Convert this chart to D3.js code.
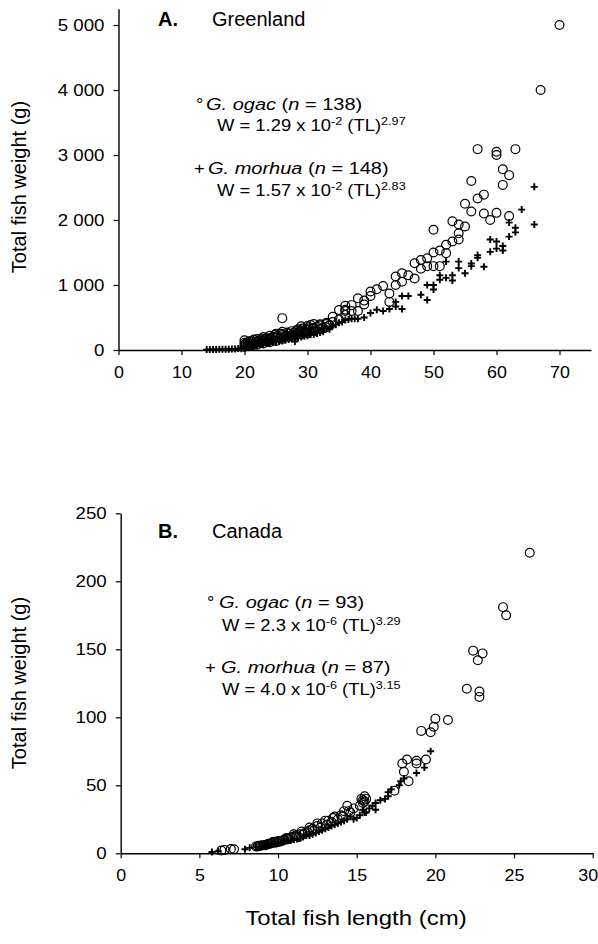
<!DOCTYPE html>
<html>
<head>
<meta charset="utf-8">
<title>Length-weight relationships</title>
<script src="https://cdn.jsdelivr.net/npm/d3@7"></script>
<style>
    body { margin: 0; background: #fff; }
    text { font-family: "Liberation Sans", Arial, sans-serif; fill: #000; }
</style>
</head>
<body>
<svg width="598" height="944"></svg>

<script>
    // [total length (cm), total weight (g)]
    const ogacA = [
        [70,5000],[67,4000],[57,3090],[63,3090],[60,3050],[60,3000],[61,2780],[62,2690],[56,2600],[61,2540],
        [58,2390],[57,2330],[55,2250],[56,2130],[58,2100],[60,2110],[59,2000],[62,2060],[53,1980],[54,1930],
        [55,1900],[50,1850],[54,1795],[54,1700],[53,1670],[52,1620],[51,1530],[50,1500],[52,1490],[49,1410],
        [48,1385],[47,1335],[49,1290],[50,1290],[51,1290],[48,1250],[45,1180],[46,1150],[44,1130],[47,1100],
        [45,1050],[44,1000],[42,985],[41,935],[40,900],[43,870],[43,740],[38,795],[39,760],[37,690],
        [36,680],[38,600],[36,600],[34,510],[35,615],[36,620],[33,400],[32,395],[30.5,385],[29,365],
        [20,50],[20,80],[20,110],[20,150],[20.5,70],[20.5,120],[21,60],[21,100],[21,140],[21.5,90],
        [21.5,160],[22,80],[22,120],[22,170],[22.5,110],[22.5,150],[23,100],[23,140],[23,200],[23.5,130],
        [23.5,180],[24,120],[24,170],[24,220],[24.5,150],[24.5,200],[25,140],[25,190],[25,250],[25.5,180],
        [26,490],[26,170],[26,230],[26,280],[26.5,210],[27,200],[27,250],[27.5,230],[27.5,290],[28,220],
        [28,270],[28.5,260],[28.5,320],[29,240],[29,300],[29.5,280],[30,260],[30,320],[30,370],[31,290],
        [31,340],[32,320],[32,380],[33,350],[34,430],[35,470],[36,540],[37,600],[39,700],[40,830],
        [20.2,95],[20.8,130],[21.2,75],[21.8,130],[22.2,145],[22.8,175],[23.2,165],[23.8,150],[24.2,190],[24.8,230],
        [25.2,210],[25.8,250],[26.2,200],[26.8,270],[27.2,220],[27.8,260],[28.2,300],[28.8,280],[29.2,330],[29.8,310],
        [30.2,350],[30.8,330],[31.5,360],[32.5,340],[33.5,380],[31,400],[33,420]
    ];
    const morhuaA = [
        [66,2510],[64,2160],[66,1930],[62,1960],[63,1880],[63,1810],[62,1745],[59,1700],[60,1670],[61,1600],
        [60,1560],[61,1530],[59,1510],[57,1460],[57,1420],[58,1280],[56,1330],[56,1290],[54,1360],[54,1260],
        [55,1180],[52,1360],[51,1150],[51,1080],[52,1110],[53,1150],[53,1070],[50,1000],[50,930],[49,1000],
        [48,850],[49,770],[46,830],[45,830],[44,740],[44,670],[43,630],[45,630],[42,600],[41,620],
        [40,570],[39,500],[38,480],[37,480],[36,460],[35,420],[34,380],[33.8,360],[33,330],[32,300],
        [31,280],[30,260],[29,230],[28,130],[28,210],[27,190],[26,170],[25,150],[24,130],[23,110],
        [22,95],[21,80],[20,60],[20,30],[21,50],[22,70],[23,85],[24,100],[25,120],[26,140],
        [27,160],[28,180],[29,200],[30,220],[31,240],[32,270],[19,25],[18,15],[17,12],[16,10],
        [15,8],[14,6],[14.5,7],[15.5,9],[16.5,11],[17.5,13],[18.5,15],[19.5,20],
        [20.5,70],[21.5,65],[22.5,90],[23.5,100],[24.5,115],[25.5,130],[26.5,150],[27.5,170],[28.5,190],[29.5,210],
        [30.5,235],[31.5,255],[32.5,280],[33.5,320],[34.5,390],[35.5,430],[36.5,470],[37.5,480]
    ];
    const ogacB = [
        [26,221],[24.3,181],[24.5,175],[22.4,149],[23,147],[22.7,142],[22,121],[22.8,119],[22.8,115],[20.8,98],
        [20,99],[19.9,93],[19.7,89],[19.1,90],[19.4,69],[18.8,68],[18.8,66],[18.2,69],[17.9,66],[18,60],
        [18.3,53],[17.4,46],[15.5,42],[15.4,39],[15.2,35],[14.4,35],[15.4,37],[15.6,40],[14.6,30],[14,28],
        [13.6,27],[13.2,24],[12.8,22],[12.5,20],[12.2,18],[12,17],[11.7,15],[11.4,14],[11.1,13],[10.9,12],
        [10.6,11],[10.4,10],[10.2,9],[10,9],[9.8,8],[9.6,7.5],[9.4,7],[9.2,6],[9,6],[8.8,5.5],
        [8.6,5],[7.2,3],[7,3.2],[6.6,2.5],[6.4,2],[11,14],[11.5,16],[12,19],[12.5,22],[13,24],
        [13.5,26],[14.2,31],[10.5,11],[9.7,8.5],[11.3,12],
        [8.7,5],[8.9,5.5],[9.1,6],[9.3,6.5],[9.5,7],[9.9,8],[10.1,8.5],[10.3,9.5],[10.7,10.5],[10.8,11.5],
        [11.2,12.5],[11.6,14],[11.9,15.5],[12.3,17],[12.7,19],[13.1,21],[13.4,23],[13.8,25],[14.1,27],[14.5,31],
        [14.8,33],[15.5,38],[15.3,40]
    ];
    const morhuaB = [
        [19.7,75],[19.3,63],[18.8,59],[17.8,53],[17.7,50],[17,45],[17,42],[16.5,39],[16.2,37],[16.2,32],
        [15.4,32],[15.5,30],[14.8,25],[15.2,28],[14.6,27],[14.2,24],[13.8,22],[13.4,20],[13,18],[12.6,16],
        [12.2,14],[11.8,13],[11.4,11],[11,10],[10.6,9],[10.2,8],[9.8,7],[9.4,6],[9,5],[8.6,4.5],
        [8.2,4],[7.9,3],[6.2,1.5],[5.8,1],[18,55],[15.8,33],[16.8,40],
        [8.8,4.5],[9.2,5.5],[9.6,6.5],[10,7.5],[10.4,8.5],[10.8,9.5],[11.2,10.5],[11.6,12],[12,13],[12.4,15],
        [12.8,17],[13.2,19],[13.6,21],[14,23],[14.4,25],[15,26],[15.6,30],[16,35],[17.2,47]
    ];

    const xTicksA = [0, 10, 20, 30, 40, 50, 60, 70];
    const yTicksA = [0, 1000, 2000, 3000, 4000, 5000];
    const xTicksB = [0, 5, 10, 15, 20, 25, 30];
    const yTicksB = [0, 50, 100, 150, 200, 250];

    const svg = d3.select("svg");
    const fmt = d3.formatLocale({ decimal: ".", thousands: " ", grouping: [3], currency: ["", ""] }).format(",");

    // text in the source figure is drawn a little wider than Arial
    function label(x, y, sx, size) {
        return svg.append("text")
            .attr("transform", `translate(${x},${y}) scale(${sx},1)`)
            .attr("font-size", size);
    }

    // one legend / equation row made of tspans
    function row(x, y, parts, sx) {
        const t = label(x, y, sx || 1.15, 16);
        let up = false;
        parts.forEach(p => {
            const s = t.append("tspan").text(p.t);
            if (p.i) s.attr("font-style", "italic");
            if (p.sup) { s.attr("font-size", 11).attr("dy", -6); up = true; }
            else if (up) { s.attr("dy", 6); up = false; }
        });
    }

    function drawPanel(p) {
        const x = d3.scaleLinear().domain(p.xDomain).range(p.xRange);
        const y = d3.scaleLinear().domain(p.yDomain).range(p.yRange);
        const g = svg.append("g");

        // axes
        const xAxis = g.append("g")
            .attr("transform", `translate(0,${p.yRange[0]})`)
            .call(d3.axisBottom(x).tickValues(p.xTicks).tickSize(5).tickSizeOuter(0).tickPadding(11));
        const yAxis = g.append("g")
            .attr("transform", `translate(${p.xRange[0]},0)`)
            .call(d3.axisLeft(y).tickValues(p.yTicks).tickSize(5).tickSizeOuter(0).tickFormat(fmt));
        [xAxis, yAxis].forEach(a => {
            a.select(".domain").attr("stroke", "#000").attr("stroke-width", 1.4);
            a.selectAll(".tick line").attr("stroke", "#000").attr("stroke-width", 1.2);
            a.selectAll("text").attr("font-size", 17).attr("font-family", null);
        });
        // keep the last x label inside the page
        xAxis.selectAll(".tick text")
            .attr("transform", d => x(d) > 585 ? "translate(-5,0) scale(1.05,1)" : "scale(1.05,1)");
        yAxis.selectAll(".tick text").attr("x", 0).attr("transform", "translate(-14,0) scale(1.1,1)");

        // G. ogac: open circles
        g.selectAll(".ogac")
            .data(p.ogac)
            .enter().append("circle")
            .attr("cx", d => x(d[0]))
            .attr("cy", d => y(d[1]))
            .attr("r", 4.4)
            .attr("fill", "none")
            .attr("stroke", "#000")
            .attr("stroke-width", 1.2);

        // G. morhua: crosses
        g.selectAll(".morhua")
            .data(p.morhua)
            .enter().append("path")
            .attr("transform", d => `translate(${x(d[0])},${y(d[1])})`)
            .attr("d", "M-3.5,0H3.5M0,-3.5V3.5")
            .attr("stroke", "#000")
            .attr("stroke-width", 1.9);

        // panel title
        label(158, p.titleY, 1, 20).attr("font-weight", "bold").text(p.letter);
        label(212, p.titleY, 1, 20).text(p.name);

        // y-axis title
        svg.append("text")
            .attr("transform", `translate(26,${p.yTitleY}) rotate(-90)`)
            .attr("text-anchor", "middle")
            .attr("font-size", 20)
            .text("Total fish weight (g)");

        // legend with the fitted equations
        const L = p.legend;
        label(L.symX, L.y1, 1.15, 16).text("°");
        row(L.nameX, L.y1, [{ t: "G. ogac", i: true }, { t: " (" }, { t: "n", i: true }, { t: " = " + L.n1 + ")" }], 1.25);
        row(L.eqX, L.y2, [{ t: "W = " + L.eq1[0] }, { t: L.eq1[1], sup: true }, { t: " (TL)" }, { t: L.eq1[2], sup: true }]);
        label(L.symX - 2, L.y3, 1.15, 16).text("+");
        row(L.nameX + 2, L.y3, [{ t: "G. morhua", i: true }, { t: " (" }, { t: "n", i: true }, { t: " = " + L.n2 + ")" }], 1.25);
        row(L.eqX, L.y4, [{ t: "W = " + L.eq2[0] }, { t: L.eq2[1], sup: true }, { t: " (TL)" }, { t: L.eq2[2], sup: true }]);
    }

    drawPanel({
        xDomain: [0, 75], xRange: [118.5, 591],
        yDomain: [0, 5250], yRange: [350, 8.75],
        xTicks: xTicksA, yTicks: yTicksA,
        ogac: ogacA, morhua: morhuaA,
        letter: "A.", name: "Greenland", titleY: 26, yTitleY: 187,
        legend: { symX: 196, nameX: 206, eqX: 217, y1: 110, y2: 131, y3: 174, y4: 196,
                  n1: 138, n2: 148, eq1: ["1.29 x 10", "-2", "2.97"], eq2: ["1.57 x 10", "-2", "2.83"] }
    });

    drawPanel({
        xDomain: [0, 30], xRange: [120.7, 592.7],
        yDomain: [0, 250], yRange: [853.3, 513.3],
        xTicks: xTicksB, yTicks: yTicksB,
        ogac: ogacB, morhua: morhuaB,
        letter: "B.", name: "Canada", titleY: 538, yTitleY: 683,
        legend: { symX: 207, nameX: 219, eqX: 222, y1: 608, y2: 631, y3: 673, y4: 695,
                  n1: 93, n2: 87, eq1: ["2.3 x 10", "-6", "3.29"], eq2: ["4.0 x 10", "-6", "3.15"] }
    });

    // shared x-axis title
    label(356, 925, 1.2, 20).attr("text-anchor", "middle").text("Total fish length (cm)");
</script>
</body>
</html>
